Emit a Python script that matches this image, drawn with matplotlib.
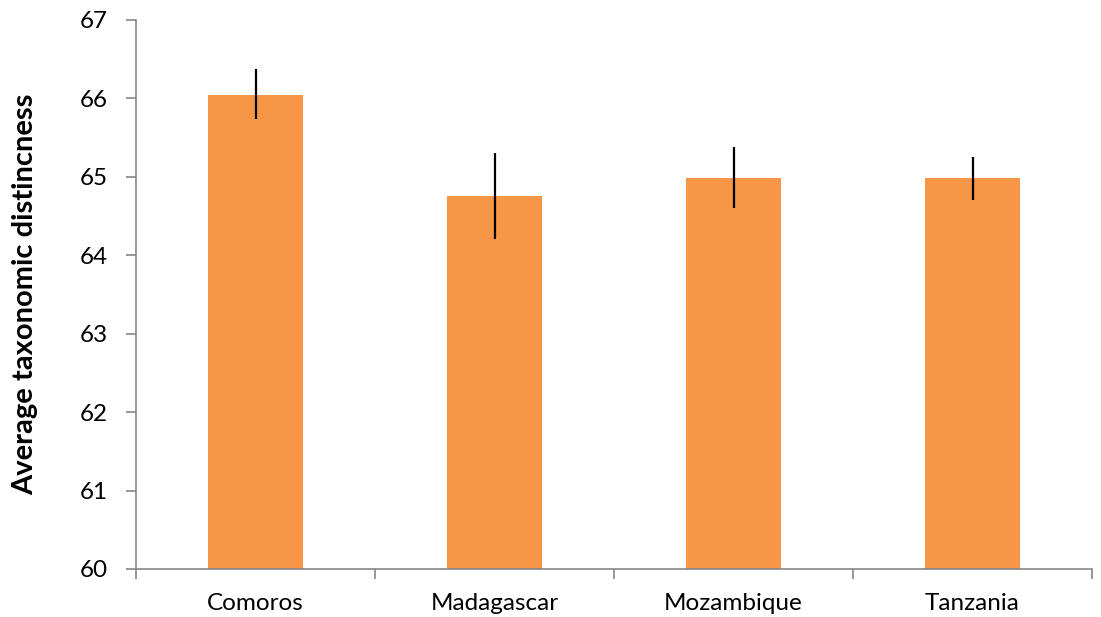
import numpy as np
import matplotlib.pyplot as plt

regions = ["Comoros", "Madagascar", "Mozambique", "Tanzania"]
avg_td = [66.05, 64.76, 64.99, 64.98]
err_lo = [0.31, 0.55, 0.39, 0.28]
err_hi = [0.32, 0.54, 0.39, 0.27]

plt.rcParams['font.family'] = ['Lato', 'DejaVu Sans']

fig = plt.figure(figsize=(11.01, 6.17), dpi=100)
ax = fig.add_axes([136/1101, 1 - 569/617, (1092 - 136)/1101, (569 - 20)/617])

x = np.arange(len(regions))
ax.bar(x, avg_td, width=0.4, color='#F79646', bottom=0)
ax.errorbar(x, avg_td, yerr=[err_lo, err_hi], fmt='none', ecolor='black',
            elinewidth=1.6, capsize=0)

ax.set_xlim(-0.5, len(regions) - 0.5)
ax.set_ylim(60, 67)
ax.set_yticks(range(60, 68))
ax.set_xticks(x)
ax.set_xticklabels(regions)
ax.set_xticks(np.arange(-0.5, len(regions)), minor=True)
ax.tick_params(axis='x', which='major', length=0, pad=17, labelsize=17.5)
ax.tick_params(axis='x', which='minor', length=7, width=1.2, color='#868686', direction='out')
ax.tick_params(axis='y', length=7, width=1.2, color='#868686', pad=13, labelsize=17.5)

for side in ['top', 'right']:
    ax.spines[side].set_visible(False)
for side in ['left', 'bottom']:
    ax.spines[side].set_color('#868686')
    ax.spines[side].set_linewidth(1.2)

ax.set_ylabel("Average taxonomic distincness", fontsize=21, fontweight='bold', labelpad=30)

fig.savefig("out.png", dpi=100)
